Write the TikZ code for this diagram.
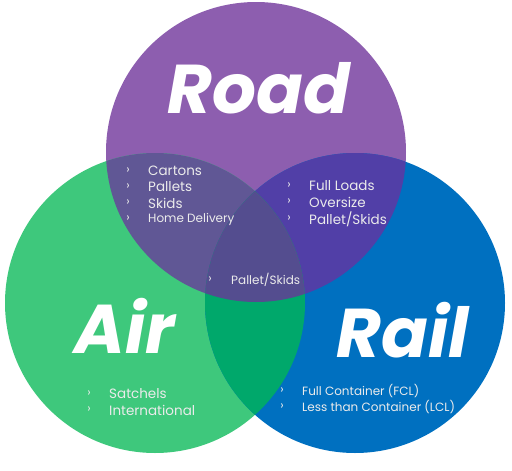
\documentclass[tikz,border=0pt]{standalone}
\usepackage{fontspec}
\setmainfont{Poppins}
\usepackage{tikz}
\usetikzlibrary{positioning}
\definecolor{roadc}{HTML}{8D5EAF}
\definecolor{airc}{HTML}{3EC87C}
\definecolor{railc}{HTML}{0070C0}
\definecolor{roadair}{HTML}{605795}
\definecolor{roadrail}{HTML}{513FA7}
\definecolor{airrail}{HTML}{00A86B}
\definecolor{allthree}{HTML}{544D8F}

\tikzset{
  setname/.style={font=\fontsize{69}{69}\selectfont\bfseries\itshape,text=white,inner sep=0pt},
  itemtxt/.style={font=\fontsize{13.5}{15}\selectfont,text=white!92!black,anchor=west,inner sep=0pt},
  smalltxt/.style={itemtxt,font=\fontsize{12}{14}\selectfont},
  bul/.style={font=\fontsize{12}{12}\selectfont,text=white!92!black,inner sep=0pt}
}
% one list line: name, bullet x, text x, y, style, text
\newcommand{\listrow}[6]{%
  \node[bul] (#1b) at (#2,#4) {›};
  \node[#5] (#1) at (#3,#4) {#6};}

\begin{document}
\begin{tikzpicture}[x=1pt,y=-1pt]
\useasboundingbox (0,0) rectangle (512,471);
\coordinate (road) at (256,152);
\coordinate (air) at (155,303);
\coordinate (rail) at (355,303);
\def\rad{150}
% the three sets
\fill[roadc] (road) circle (\rad);
\fill[airc] (air) circle (\rad);
\fill[railc] (rail) circle (\rad);
% overlaps
\begin{scope}
  \clip (road) circle (\rad);
  \fill[roadair] (air) circle (\rad);
  \fill[roadrail] (rail) circle (\rad);
\end{scope}
\begin{scope}
  \clip (air) circle (\rad);
  \fill[airrail] (rail) circle (\rad);
  \clip (rail) circle (\rad);
  \fill[allthree] (road) circle (\rad);
\end{scope}
% set names
\node[setname] (roadname) at (259,88) {Road};
\node[setname] (airname) at (125,326) {Air};
\node[setname] (railname) at (403,330) {Rail};
% road and air
\listrow{cartons}{128}{148}{171}{itemtxt}{Cartons}
\listrow{pallets}{128}{148}{187}{itemtxt}{Pallets}
\listrow{skids}{128}{148}{203}{itemtxt}{Skids}
\listrow{home}{128}{148}{219}{smalltxt}{Home Delivery}
% road and rail
\listrow{full}{289}{309}{186}{itemtxt}{Full Loads}
\listrow{over}{289}{309}{202}{itemtxt}{Oversize}
\listrow{pskids}{289}{309}{219}{itemtxt}{Pallet/Skids}
% all three
\listrow{centre}{210}{231}{280}{smalltxt}{Pallet/Skids}
% air
\listrow{satchels}{89}{109}{394}{itemtxt}{Satchels}
\listrow{intl}{89}{109}{410}{itemtxt}{International}
% rail
\listrow{fcl}{282}{302}{391}{smalltxt}{Full Container (FCL)}
\listrow{lcl}{282}{302}{407}{smalltxt}{Less than Container (LCL)}
\end{tikzpicture}
\end{document}
